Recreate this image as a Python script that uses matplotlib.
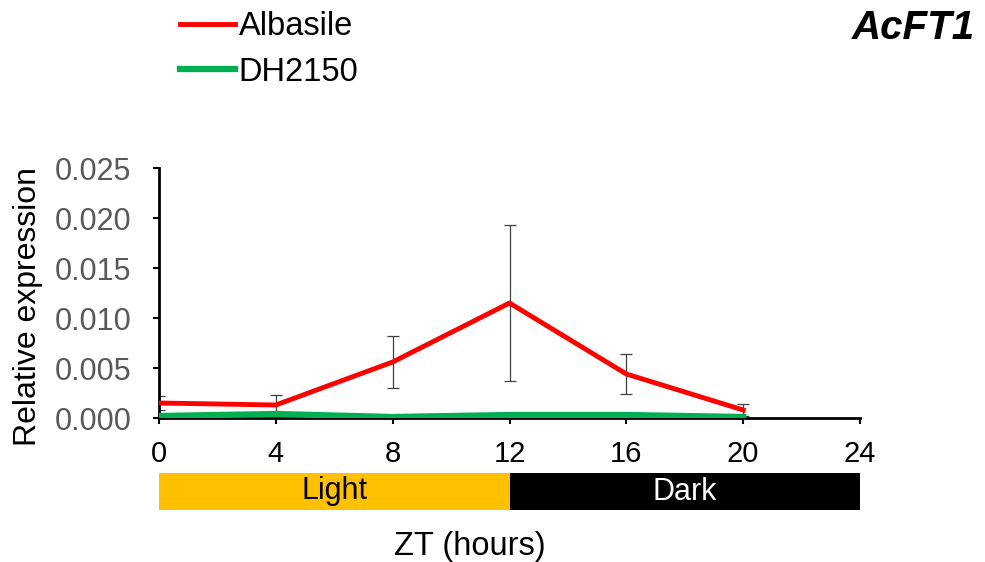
import numpy as np
import matplotlib.pyplot as plt
from matplotlib import font_manager

plt.rcParams['font.family'] = ['Liberation Sans', 'DejaVu Sans']

# data
zt = [0, 4, 8, 12, 16, 20]
albasile = [0.0015, 0.0013, 0.0056, 0.0115, 0.0044, 0.0008]
albasile_err = [0.0007, 0.0010, 0.0026, 0.0078, 0.0020, 0.0006]
dh2150 = [0.0002, 0.0004, 0.0001, 0.0003, 0.0003, 0.0001]
xticks = [0, 4, 8, 12, 16, 20, 24]
yticks = [0.000, 0.005, 0.010, 0.015, 0.020, 0.025]
periods = ['Light', 'Dark']
period_start = [0, 12]
period_len = [12, 12]
period_col = ['#FFC000', '#000000']
period_txt = ['black', 'white']

# condensed font for the x tick labels if there is one
try:
    font_manager.findfont('Liberation Sans Narrow', fallback_to_default=False)
    narrow, xt_size = 'Liberation Sans Narrow', 24
except Exception:
    narrow, xt_size = 'Liberation Sans', 21

fig = plt.figure(figsize=(9.85, 5.62), dpi=100)
ax = fig.add_axes([159/985, 1-418/562, 701/985, 250/562])

l1, = ax.plot(zt, albasile, color='#FF0000', lw=3.5, label='Albasile', zorder=3)
ax.errorbar(zt, albasile, yerr=albasile_err, fmt='none', ecolor='#404040',
            elinewidth=0.9, capsize=4, capthick=0.9, zorder=2)
l2, = ax.plot(zt, dh2150, color='#00B050', lw=4.5, label='DH2150', zorder=3)

ax.set_xlim(0, 24)
ax.set_ylim(0, 0.025)
ax.set_xticks(xticks)
ax.set_xticklabels([str(t) for t in xticks], fontsize=xt_size, color='black',
                   family=[narrow, 'Liberation Sans'])
ax.set_yticks(yticks)
ax.set_yticklabels(['%.3f' % v for v in yticks], fontsize=22, color='#595959')
ax.tick_params(direction='out', length=4, width=1.5, color='black')
ax.tick_params(axis='y', pad=16)
ax.tick_params(axis='x', pad=12)
for s in ['top', 'right']:
    ax.spines[s].set_visible(False)
for s in ['left', 'bottom']:
    ax.spines[s].set_linewidth(2)
ax.set_ylabel('Relative expression', fontsize=23)
ax.yaxis.set_label_coords(-116/701, 0.445)

# light / dark bar
bx = fig.add_axes([159/985, 1-510/562, 701/985, 37/562])
bx.barh(0, period_len, left=period_start, height=1, color=period_col)
for p, s, w, c in zip(periods, period_start, period_len, period_txt):
    bx.text(s + w/2, 0, p, ha='center', va='center', fontsize=22, color=c,
            family=[narrow, 'Liberation Sans'])
bx.set_xlim(0, 24)
bx.set_ylim(-0.5, 0.5)
bx.axis('off')

fig.text(470/985, 1-547/562, 'ZT (hours)', ha='center', va='center', fontsize=23.5)
fig.text(975/985, 1-28/562, 'AcFT1', ha='right', va='center', fontsize=29,
         fontweight='bold', fontstyle='italic')

fig.legend(handles=[l1, l2], loc='upper left', bbox_to_anchor=(180/985, 1-11/562),
           frameon=False, fontsize=23.5, handlelength=1.7, handletextpad=0.1,
           labelspacing=0.45, borderpad=0, borderaxespad=0)

fig.savefig('out.png', dpi=100)
